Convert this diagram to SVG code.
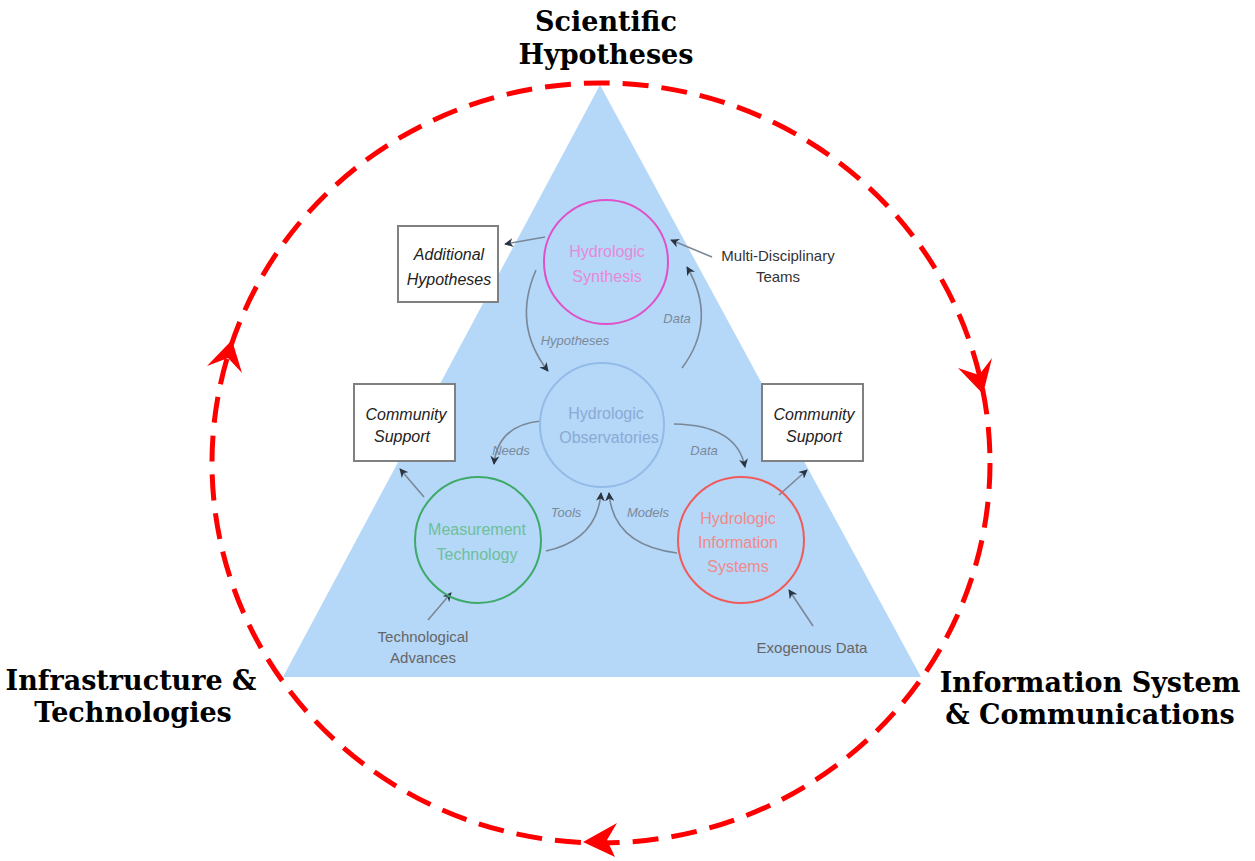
<svg xmlns="http://www.w3.org/2000/svg" width="1255" height="861" viewBox="0 0 1255 861">
<style>
.big{font-family:"DejaVu Serif","Liberation Serif",serif;font-weight:bold;font-size:27px;fill:#000;text-anchor:middle}
.in{font-family:"Liberation Sans",Arial,sans-serif;font-size:16px;text-anchor:middle}
.box{fill:#fff;stroke:#808080;stroke-width:2}
.bt{font-family:"Liberation Sans",Arial,sans-serif;font-style:italic;font-size:16px;fill:#222;text-anchor:middle}
.lbl{font-family:"Liberation Sans",Arial,sans-serif;font-style:italic;font-size:13px;fill:#7a8a9a;text-anchor:middle}
.ext{font-family:"Liberation Sans",Arial,sans-serif;font-size:15px;fill:#666;text-anchor:middle}
.dark{fill:#333}
.con{fill:none;stroke:#7a8796;stroke-width:1.6;marker-end:url(#ah)}
.red{fill:#ff0000}
</style>
<defs>
<marker id="ah" viewBox="0 0 10 10" refX="9" refY="5" markerWidth="9" markerHeight="9" orient="auto" markerUnits="userSpaceOnUse">
<path d="M0,0 L10,5 L0,10 L3,5 Z" fill="#2a3440"/>
</marker>
</defs>
<rect width="1255" height="861" fill="#fff"/>
<g id="triangle">
<polygon points="600,85 283,677 921,677" fill="#b5d7f8"/>
</g>
<g id="cycle">
<ellipse cx="601" cy="463" rx="389" ry="380" fill="none" stroke="#ff0000" stroke-width="5" stroke-dasharray="26 13"/>
<polygon class="red" points="232,340 207,366 228,358 242,373"/>
<polygon class="red" points="983,394 958,368 979,375 992,358"/>
<polygon class="red" points="583,842 617,823 607,840 615,857"/>
</g>
<g id="label-scientific">
<text class="big" x="606" y="31">Scientific</text>
<text class="big" x="606" y="64">Hypotheses</text>
</g>
<g id="label-infrastructure">
<text class="big" x="131" y="690">Infrastructure &amp;</text>
<text class="big" x="133" y="722">Technologies</text>
</g>
<g id="label-information">
<text class="big" x="1090" y="692">Information System</text>
<text class="big" x="1090" y="724">&amp; Communications</text>
</g>
<g id="connectors">
<path class="con" d="M545,237 L505,244"/>
<path class="con" d="M712,257 L671,240"/>
<path class="con" d="M536,270 Q512,325 548,371"/>
<path class="con" d="M682,368 Q718,320 687,267"/>
<path class="con" d="M541,421 Q498,425 494,464"/>
<path class="con" d="M674,424 Q737,425 745,467"/>
<path class="con" d="M546,551 Q597,540 601,493"/>
<path class="con" d="M677,553 Q613,545 609,493"/>
<path class="con" d="M424,497 L400,469"/>
<path class="con" d="M779,495 L807,470"/>
<path class="con" d="M428,620 L451,593"/>
<path class="con" d="M813,626 L789,590"/>
<text class="lbl" x="575" y="345">Hypotheses</text>
<text class="lbl" x="677" y="323">Data</text>
<text class="lbl" x="511" y="455">Needs</text>
<text class="lbl" x="704" y="455">Data</text>
<text class="lbl" x="566" y="517">Tools</text>
<text class="lbl" x="648" y="517">Models</text>
</g>
<g id="node-synthesis">
<circle cx="606" cy="262" r="62" fill="none" stroke="#e050c8" stroke-width="2"/>
<text class="in" x="607" y="257" fill="#e68ad8">Hydrologic</text>
<text class="in" x="607" y="282" fill="#e68ad8">Synthesis</text>
</g>
<g id="node-observatories">
<circle cx="602" cy="425" r="62" fill="none" stroke="#93bbe8" stroke-width="2"/>
<text class="in" x="606" y="419" fill="#8aaad4">Hydrologic</text>
<text class="in" x="609" y="443" fill="#8aaad4">Observatories</text>
</g>
<g id="node-measurement">
<circle cx="478" cy="540" r="63" fill="none" stroke="#3eaa6a" stroke-width="2"/>
<text class="in" x="477" y="535" fill="#6cc09a">Measurement</text>
<text class="in" x="477" y="560" fill="#6cc09a">Technology</text>
</g>
<g id="node-infosystems">
<circle cx="741" cy="540" r="63" fill="none" stroke="#f05a5a" stroke-width="2"/>
<text class="in" x="738" y="524" fill="#f08a8a">Hydrologic</text>
<text class="in" x="738" y="548" fill="#f08a8a">Information</text>
<text class="in" x="738" y="572" fill="#f08a8a">Systems</text>
</g>
<g id="node-additional">
<rect class="box" x="398" y="226" width="100" height="76"/>
<text class="bt" x="449" y="260">Additional</text>
<text class="bt" x="449" y="285">Hypotheses</text>
</g>
<g id="node-community-left">
<rect class="box" x="354" y="384" width="101" height="77"/>
<text class="bt" x="406" y="420">Community</text>
<text class="bt" x="402" y="442">Support</text>
</g>
<g id="node-community-right">
<rect class="box" x="762" y="384" width="101" height="77"/>
<text class="bt" x="814" y="420">Community</text>
<text class="bt" x="814" y="442">Support</text>
</g>
<g id="node-teams">
<text class="ext dark" x="778" y="261">Multi-Disciplinary</text>
<text class="ext dark" x="778" y="282">Teams</text>
</g>
<g id="node-techadv">
<text class="ext" x="423" y="642">Technological</text>
<text class="ext" x="423" y="663">Advances</text>
</g>
<g id="node-exogenous">
<text class="ext" x="812" y="653">Exogenous Data</text>
</g>
</svg>
